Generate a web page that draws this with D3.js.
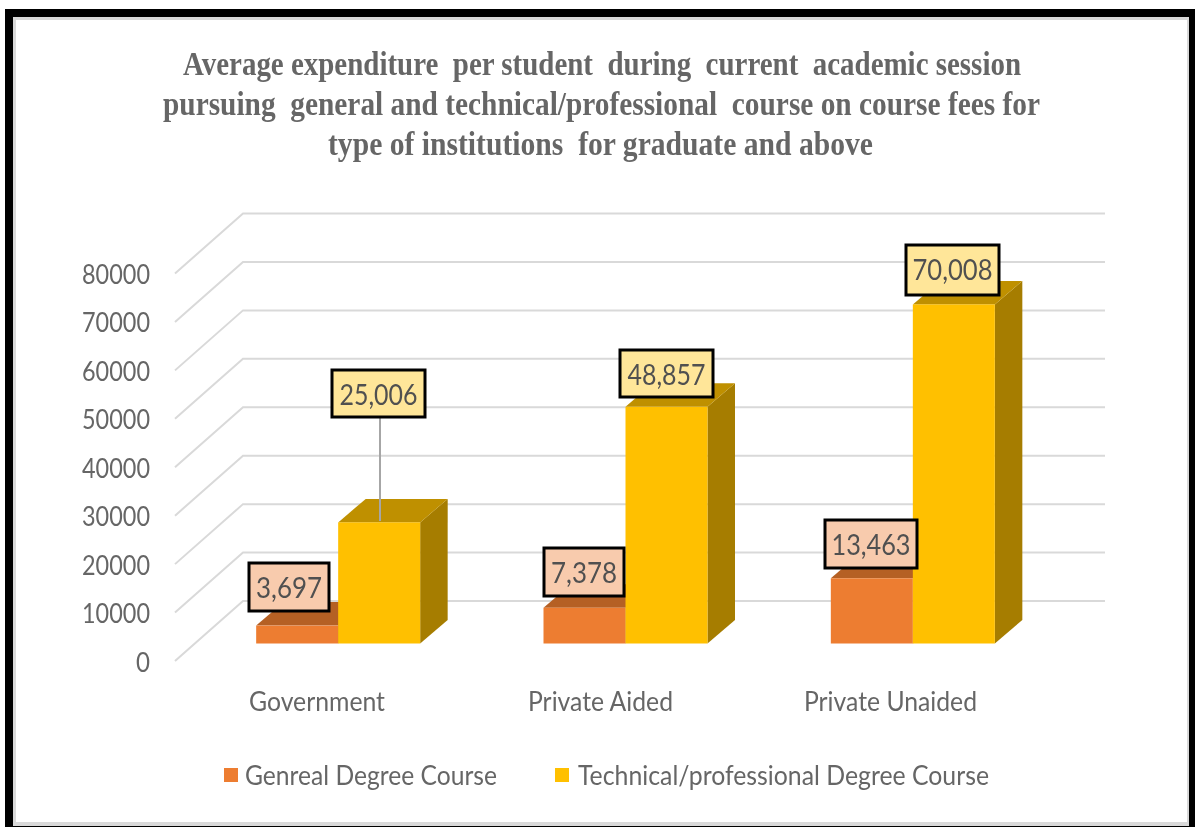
<!DOCTYPE html>
<html><head><meta charset="utf-8">
<script src="https://cdn.jsdelivr.net/npm/d3@7/dist/d3.min.js"></script>
<style>html,body{margin:0;padding:0;background:#fff}svg{display:block;filter:blur(0.45px)}</style>
</head><body><svg id="c" width="1195" height="827"></svg>
<script>
const categories = ["Government","Private Aided","Private Unaided"];
const seriesNames = ["Genreal Degree Course","Technical/professional Degree Course"];
const generalValues = [3697,7378,13463];
const technicalValues = [25006,48857,70008];
const yTicks = [0,10000,20000,30000,40000,50000,60000,70000,80000];
const titleLines = ["Average expenditure  per student  during  current  academic session","pursuing  general and technical/professional  course on course fees for","type of institutions  for graduate and above"];

const svg = d3.select("#c");
const fmt = d3.format(",");
const TXT = "#666";
const front = {left:175, floor:661}, back = {left:243, right:1105, floor:601};
const rise = d3.scaleLinear().domain([0,80000]).range([0,387.5]);
const x0 = d3.scaleBand().domain(categories).range([194.5,1056.5]);
const x1 = d3.scaleBand().domain(seriesNames).range([-82,82]);
const baseY = 643.5, depthX = 27.5, depthY = 23.5;
const colors = {[seriesNames[0]]:{f:"#ED7D31",t:"#B56024",s:"#9E5420",l:"#F8CBAD"},
                [seriesNames[1]]:{f:"#FFC000",t:"#BF9000",s:"#A67D00",l:"#FFE699"}};

// frame
svg.append("rect").attr("x",5).attr("y",9).attr("width",1190).attr("height",818).attr("fill","#000");
svg.append("rect").attr("x",13).attr("y",17).attr("width",1176).attr("height",809).attr("fill","#d9d9d9");
svg.append("rect").attr("x",16).attr("y",20).attr("width",1171).attr("height",802).attr("fill","#fff");

// title
const tw = [[183,1021],[163,1040],[328,873]];
svg.append("g").selectAll("text").data(titleLines).join("text")
  .attr("x",(d,i)=>tw[i][0]).attr("y",(d,i)=>75+i*40)
  .attr("textLength",(d,i)=>tw[i][1]-tw[i][0]).attr("lengthAdjust","spacingAndGlyphs")
  .attr("font-family","'Liberation Serif'").attr("font-weight","bold").attr("font-size",33)
  .attr("fill","#666").style("white-space","pre").text(d=>d);

// gridlines (walls)
const g = svg.append("g").attr("fill","none").attr("stroke","#d9d9d9").attr("stroke-width",2);
g.selectAll("path").data(yTicks).join("path")
  .attr("d",d=>`M${front.left},${front.floor-rise(d)}L${back.left},${back.floor-rise(d)}H${back.right}`);

// y labels
svg.append("g").selectAll("text").data(yTicks).join("text")
  .attr("x",150).attr("y",d=>front.floor-rise(d)+10.5).attr("text-anchor","end")
  .attr("textLength",d=>d===0?14:68).attr("lengthAdjust","spacingAndGlyphs")
  .attr("font-family","Lato").attr("font-size",27).attr("fill",TXT).text(d=>d);

// bars
const rows = categories.flatMap((c,i)=>[
  {c,s:seriesNames[0],v:generalValues[i]},
  {c,s:seriesNames[1],v:technicalValues[i]}]);
const center = c=>x0(c)+x0.bandwidth()/2;
const bars = svg.append("g").selectAll("g").data(rows).join("g");
const L = d=>center(d.c)+x1(d.s), R = d=>L(d)+x1.bandwidth(), T = d=>baseY-rise(d.v);
bars.append("path").attr("fill",d=>colors[d.s].s)
  .attr("d",d=>`M${R(d)},${T(d)}l${depthX},${-depthY}V${baseY-depthY}L${R(d)},${baseY}Z`);
bars.append("path").attr("fill",d=>colors[d.s].t)
  .attr("d",d=>`M${L(d)},${T(d)}l${depthX},${-depthY}H${R(d)+depthX}L${R(d)},${T(d)}Z`);
bars.append("rect").attr("fill",d=>colors[d.s].f)
  .attr("x",L).attr("y",T).attr("width",x1.bandwidth()).attr("height",d=>rise(d.v));

// leader line
svg.append("line").attr("x1",380).attr("x2",380).attr("y1",416).attr("y2",521)
  .attr("stroke","#a6a6a6").attr("stroke-width",2);

// data labels
const boxes = [[249,563,80,48],[332,370,93,47],[544,548,80,48],[620,350,93,47],[825,520,92,48],[906,245,93,50]];
const textW = [66,78,66,78,79,80];
const lab = svg.append("g").selectAll("g").data(rows).join("g");
lab.append("rect").attr("x",(d,i)=>boxes[i][0]).attr("y",(d,i)=>boxes[i][1])
  .attr("width",(d,i)=>boxes[i][2]).attr("height",(d,i)=>boxes[i][3])
  .attr("fill",d=>colors[d.s].l).attr("stroke","#000").attr("stroke-width",3);
lab.append("text").attr("x",(d,i)=>boxes[i][0]+boxes[i][2]/2-textW[i]/2).attr("y",(d,i)=>boxes[i][1]+35)
  .attr("textLength",(d,i)=>textW[i]).attr("lengthAdjust","spacingAndGlyphs")
  .attr("font-family","Lato").attr("font-size",28).attr("fill","#505050")
  .text(d=>fmt(d.v));

// category labels
const catX = [[249,385],[528,673],[804,977]];
svg.append("g").selectAll("text").data(categories).join("text")
  .attr("x",(d,i)=>catX[i][0]).attr("y",711)
  .attr("textLength",(d,i)=>catX[i][1]-catX[i][0]).attr("lengthAdjust","spacingAndGlyphs")
  .attr("font-family","Lato").attr("font-size",27).attr("fill",TXT).text(d=>d);

// legend
const leg = [[224,245,497],[555,578,989]];
const lg = svg.append("g").selectAll("g").data(seriesNames).join("g");
lg.append("rect").attr("x",(d,i)=>leg[i][0]).attr("y",768).attr("width",14).attr("height",14).attr("fill",d=>colors[d].f);
lg.append("text").attr("x",(d,i)=>leg[i][1]).attr("y",785)
  .attr("textLength",(d,i)=>leg[i][2]-leg[i][1]).attr("lengthAdjust","spacingAndGlyphs")
  .attr("font-family","Lato").attr("font-size",27).attr("fill",TXT).text(d=>d);
</script></body></html>
